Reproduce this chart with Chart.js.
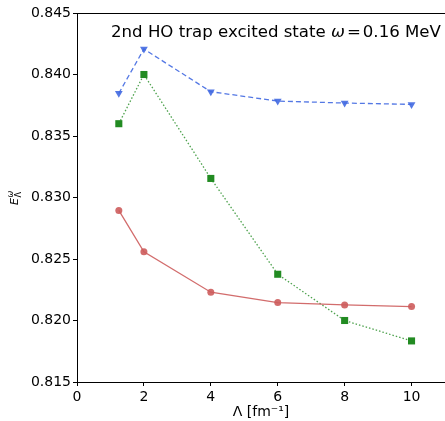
<!DOCTYPE html>
<html>
<head>
<meta charset="utf-8">
<script src="https://cdn.jsdelivr.net/npm/chart.js@4.4.1/dist/chart.umd.min.js"></script>
<style>
  html, body { margin: 0; padding: 0; background: #fff; }
  #wrap { width: 445px; height: 421px; position: relative; }
</style>
</head>
<body>
<div id="wrap"><canvas id="c" width="445" height="421"></canvas></div>
<script>
// Cutoff values Λ [fm^-1]
const lambdas = [1.25, 2, 4, 6, 8, 10];
// Energies E_Λ^ω for three approaches
const seriesRed   = [0.82895, 0.82558, 0.8223, 0.82146, 0.82127, 0.82113];
const seriesGreen = [0.8360, 0.8400, 0.83155, 0.82376, 0.8200, 0.81834];
const seriesBlue  = [0.83847, 0.84207, 0.8386, 0.83784, 0.83768, 0.83757];
// Axis ticks
const xTicks = [0, 2, 4, 6, 8, 10];
const yTicks = [0.815, 0.820, 0.825, 0.830, 0.835, 0.840, 0.845];

const FONT = '"DejaVu Sans", sans-serif';
const pts = ys => lambdas.map((x, i) => ({ x: x, y: ys[i] }));

// Frame top line, in-plot title and y-axis label drawn on the canvas
const decorations = {
  id: 'decorations',
  afterDraw(chart) {
    const { ctx, chartArea: a } = chart;
    ctx.save();
    ctx.strokeStyle = '#000';
    ctx.lineWidth = 1;
    ctx.beginPath();
    ctx.moveTo(a.left, a.top + 0.5);
    ctx.lineTo(chart.width, a.top + 0.5);
    ctx.stroke();

    // title with italic omega
    ctx.fillStyle = '#000';
    ctx.textBaseline = 'alphabetic';
    const y0 = 37;
    let x = 111;
    const parts = [
      ['2nd HO trap excited state ', '16.6px ' + FONT, 0],
      ['ω', 'italic 16.6px ' + FONT, 2],
      ['=', '16.6px ' + FONT, 2],
      ['0.16 MeV', '16.6px ' + FONT, 0]
    ];
    for (const [t, f, gap] of parts) {
      ctx.font = f;
      ctx.fillText(t, x, y0);
      x += ctx.measureText(t).width + gap;
    }

    // y label E_Λ^ω rotated
    ctx.translate(18, 205);
    ctx.rotate(-Math.PI / 2);
    ctx.font = 'italic 11px ' + FONT;
    ctx.fillText('E', 0, 0);
    const w = ctx.measureText('E').width;
    ctx.font = 'italic 8px ' + FONT;
    ctx.fillText('ω', w + 0.5, -5);
    ctx.font = '8px ' + FONT;
    ctx.fillText('Λ', w + 0.5, 3);
    ctx.restore();
  }
};

new Chart(document.getElementById('c'), {
  type: 'line',
  data: {
    datasets: [
      {
        data: pts(seriesRed),
        borderColor: 'rgba(205,92,92,0.9)',
        backgroundColor: 'rgba(205,92,92,0.9)',
        borderWidth: 1.3,
        pointStyle: 'circle',
        pointRadius: 3.5,
        pointBorderWidth: 0,
        tension: 0
      },
      {
        data: pts(seriesGreen),
        borderColor: 'rgba(34,139,34,0.8)',
        backgroundColor: '#228B22',
        borderWidth: 1.3,
        borderDash: [1.5, 2],
        pointStyle: 'rect',
        pointRadius: 5,
        pointBorderWidth: 0,
        tension: 0
      },
      {
        data: pts(seriesBlue),
        borderColor: 'rgba(65,105,225,0.9)',
        backgroundColor: 'rgba(65,105,225,0.9)',
        borderWidth: 1.3,
        borderDash: [5, 3],
        pointStyle: 'triangle',
        pointRotation: 180,
        pointRadius: 4.5,
        pointBorderWidth: 0,
        tension: 0
      }
    ]
  },
  options: {
    responsive: false,
    animation: false,
    devicePixelRatio: 1,
    layout: { autoPadding: false, padding: { top: 13, right: 0, left: 0, bottom: 0 } },
    plugins: { legend: { display: false }, tooltip: { enabled: false }, title: { display: false } },
    scales: {
      x: {
        type: 'linear',
        min: 0,
        max: 11,
        afterBuildTicks: s => { s.ticks = xTicks.map(v => ({ value: v })); },
        afterFit: s => { s.height = 39; s.paddingRight = 0; s.paddingLeft = 0; },
        grid: { drawOnChartArea: false, drawTicks: true, tickLength: 4, color: '#000' },
        border: { display: true, color: '#000', width: 1 },
        ticks: { color: '#000', font: { family: FONT, size: 14 }, padding: 3, maxRotation: 0,
                 callback: v => String(v) },
        title: { display: true, text: 'Λ [fm⁻¹]', color: '#000', font: { family: FONT, size: 14 }, padding: { top: 2, bottom: 0 } }
      },
      y: {
        type: 'linear',
        min: 0.815,
        max: 0.845,
        afterBuildTicks: s => { s.ticks = yTicks.map(v => ({ value: v })); },
        afterFit: s => { s.width = 77; s.paddingTop = 0; s.paddingBottom = 0; },
        grid: { drawOnChartArea: false, drawTicks: true, tickLength: 4, color: '#000' },
        border: { display: true, color: '#000', width: 1 },
        ticks: { color: '#000', font: { family: FONT, size: 14 }, padding: 2,
                 callback: v => Number(v).toFixed(3) }
      }
    }
  },
  plugins: [decorations]
});
</script>
</body>
</html>
